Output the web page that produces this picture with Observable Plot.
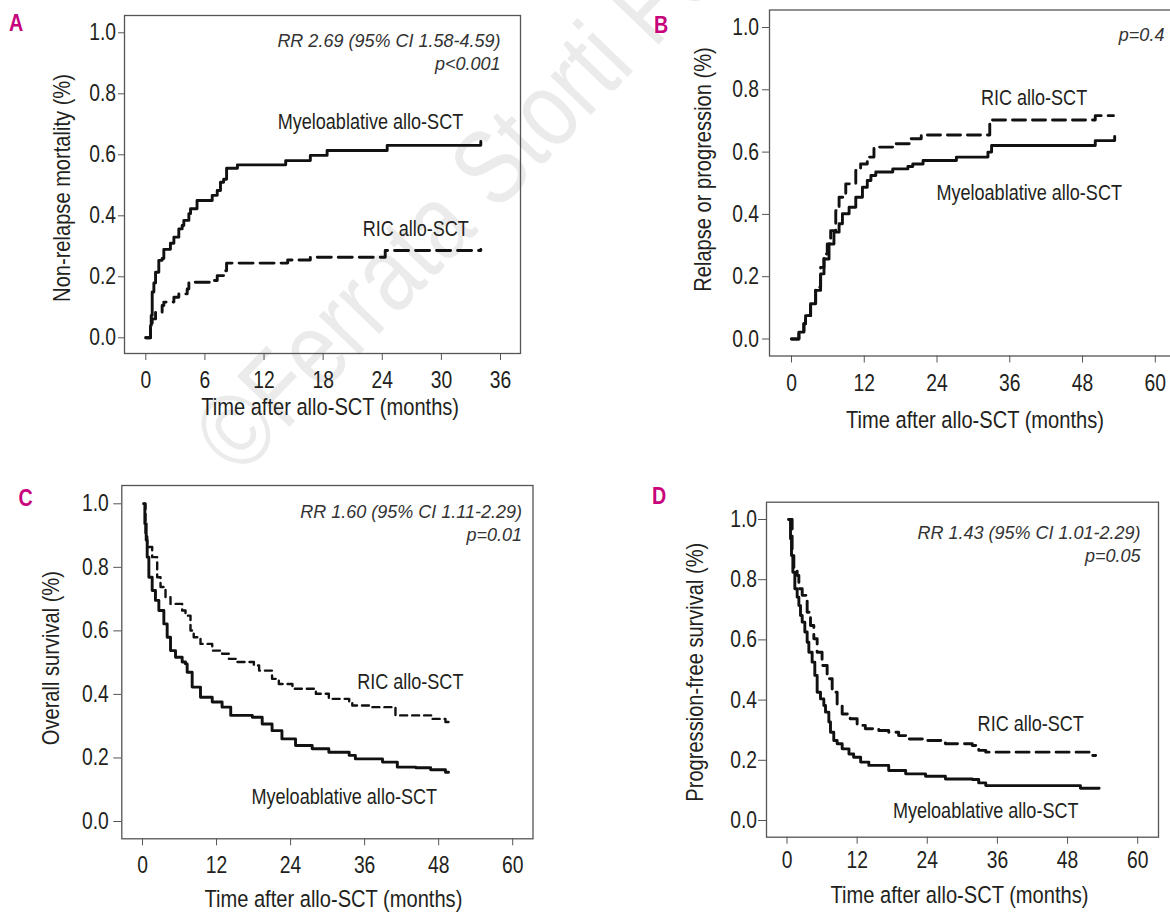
<!DOCTYPE html>
<html>
<head>
<meta charset="utf-8">
<script src="https://cdn.jsdelivr.net/npm/d3@7"></script>
<script src="https://cdn.jsdelivr.net/npm/@observablehq/plot@0.6"></script>
<style>
html, body { margin: 0; padding: 0; background: #ffffff; }
#page { position: relative; width: 1170px; height: 913px; overflow: hidden; background: #ffffff; }
#page svg { overflow: visible; }
g[aria-label$="axis tick"] path, g[aria-label="x-axis"] line, g[aria-label="y-axis"] line { stroke: #555; }
</style>
</head>
<body>
<div id="page">
<svg id="bg" width="1170" height="913" style="position:absolute;left:0;top:0;">
  <text transform="translate(240,478) rotate(-46)" font-size="106" fill="#ebebeb"
        font-family="'Liberation Sans',Arial,sans-serif">©Ferrata Storti Foundation</text>
  <g font-family="'Liberation Sans',Arial,sans-serif" font-weight="bold" font-size="24" fill="#c8047d">
    <text x="9" y="30.5">A</text>
    <text x="654" y="33">B</text>
    <text x="18.5" y="505.5">C</text>
    <text x="652" y="504">D</text>
  </g>
</svg>
</div>
<script>
// ---------- shared labels / ticks ----------
const xTicks36 = [0, 6, 12, 18, 24, 30, 36];
const xTicks60 = [0, 12, 24, 36, 48, 60];
const yTicks = [0, 0.2, 0.4, 0.6, 0.8, 1.0];
const xTitle = "Time after allo-SCT (months)";
const labelMyelo = "Myeloablative allo-SCT";
const labelRIC = "RIC allo-SCT";

// ---------- Panel A: non-relapse mortality ----------
const nrmMonthsMyelo = [0, 0.48, 0.55, 0.65, 0.82, 0.99, 1.32, 1.66, 1.83, 2.5, 2.85, 3.35, 3.69, 3.86, 4.37, 4.54, 5.2, 6.74, 7.25, 7.58, 7.9, 8.2, 9.3, 14.2, 16.7, 18.4, 24.5, 34.0, 34.0];
const nrmMyelo       = [0, 0.04, 0.073, 0.15, 0.18, 0.215, 0.254, 0.26, 0.29, 0.31, 0.33, 0.357, 0.368, 0.385, 0.407, 0.423, 0.45, 0.467, 0.483, 0.51, 0.52, 0.556, 0.567, 0.581, 0.598, 0.614, 0.631, 0.631, 0.644];
const nrmMonthsRIC   = [0, 0.48, 0.65, 0.99, 1.66, 1.83, 2.85, 3.35, 4.2, 4.37, 6.9, 7.25, 7.9, 8.2, 14.4, 16.7, 24.3, 34.0];
const nrmRIC         = [0, 0.03, 0.062, 0.084, 0.106, 0.117, 0.133, 0.144, 0.16, 0.182, 0.188, 0.204, 0.22, 0.245, 0.255, 0.264, 0.286, 0.29];
const statsA = ["RR 2.69 (95% CI 1.58-4.59)", "p<0.001"];
const yTitleA = "Non-relapse mortality (%)";

// ---------- Panel B: relapse or progression ----------
const relMonthsMyelo = [0, 1.22, 2.04, 2.32, 3.15, 3.98, 4.8, 5.36, 6.19, 7.0, 7.85, 8.4, 9.5, 10.6, 11.7, 12.5, 13.1, 13.9, 16.7, 19.2, 20.0, 21.7, 27.2, 32.4, 33.0, 50.1, 53.3, 53.3];
const relMyelo       = [0, 0.022, 0.049, 0.075, 0.113, 0.156, 0.209, 0.257, 0.305, 0.343, 0.37, 0.402, 0.423, 0.455, 0.487, 0.509, 0.525, 0.536, 0.546, 0.554, 0.562, 0.573, 0.584, 0.6, 0.621, 0.637, 0.637, 0.65];
const relMonthsRIC   = [0, 1.22, 2.04, 2.32, 3.15, 3.98, 4.8, 5.36, 5.9, 6.46, 7.3, 7.85, 8.95, 10.6, 11.4, 12.5, 13.6, 16.7, 19.7, 21.4, 32.7, 50.1, 53.1];
const relRIC         = [0, 0.022, 0.049, 0.075, 0.113, 0.166, 0.23, 0.273, 0.305, 0.348, 0.412, 0.455, 0.498, 0.541, 0.562, 0.584, 0.616, 0.627, 0.643, 0.655, 0.703, 0.717, 0.717];
const statsB = ["p=0.4"];
const yTitleB = "Relapse or progression (%)";

// ---------- Panel C: overall survival ----------
const osMonthsMyelo = [0.2, 0.38, 0.6, 0.76, 1.03, 1.57, 2.1, 2.65, 3.46, 4.0, 4.54, 5.35, 6.43, 6.97, 7.24, 8.05, 9.4, 11.3, 12.9, 14.3, 17.8, 19.4, 21.0, 22.6, 24.8, 27.5, 30.2, 33.5, 34.5, 38.9, 41.3, 44.3, 46.7, 49.1, 49.6];
const osMyelo       = [1.0, 0.937, 0.885, 0.832, 0.769, 0.727, 0.696, 0.664, 0.622, 0.58, 0.538, 0.517, 0.502, 0.496, 0.47, 0.423, 0.391, 0.376, 0.36, 0.334, 0.328, 0.307, 0.286, 0.26, 0.239, 0.229, 0.218, 0.208, 0.197, 0.187, 0.171, 0.169, 0.163, 0.155, 0.155];
const osMonthsRIC   = [0.2, 0.49, 0.76, 1.57, 2.38, 2.92, 3.73, 4.54, 6.43, 6.97, 7.78, 8.3, 9.4, 11.3, 12.9, 14.0, 15.1, 18.05, 18.9, 21.0, 22.1, 24.3, 28.1, 30.2, 33.5, 34.0, 36.7, 41.0, 47.0, 49.1, 49.6];
const osRIC         = [1.0, 0.906, 0.864, 0.832, 0.769, 0.738, 0.706, 0.685, 0.664, 0.648, 0.601, 0.58, 0.559, 0.538, 0.528, 0.512, 0.502, 0.491, 0.475, 0.449, 0.433, 0.418, 0.402, 0.386, 0.376, 0.365, 0.36, 0.334, 0.323, 0.313, 0.313];
const statsC = ["RR 1.60 (95% CI 1.11-2.29)", "p=0.01"];
const yTitleC = "Overall survival (%)";

// ---------- Panel D: progression-free survival ----------
const pfsMonthsMyelo = [0.3, 0.6, 0.77, 1.0, 1.34, 1.74, 2.03, 2.31, 2.6, 3.05, 3.45, 3.74, 4.3, 4.76, 5.16, 5.73, 6.3, 6.59, 7.16, 7.44, 8.0, 8.58, 9.44, 10.6, 11.4, 12.6, 14.0, 17.4, 20.3, 23.7, 27.1, 31.7, 32.8, 34.0, 50.2, 53.4];
const pfsMyelo       = [1.0, 0.936, 0.88, 0.825, 0.77, 0.742, 0.714, 0.681, 0.659, 0.626, 0.592, 0.559, 0.526, 0.482, 0.426, 0.404, 0.382, 0.36, 0.327, 0.293, 0.266, 0.255, 0.238, 0.221, 0.21, 0.194, 0.183, 0.166, 0.155, 0.147, 0.138, 0.136, 0.125, 0.116, 0.107, 0.107];
const pfsMonthsRIC   = [0.3, 0.88, 1.17, 1.74, 2.03, 2.6, 3.45, 4.02, 4.59, 5.16, 6.0, 6.87, 7.73, 8.58, 9.44, 10.8, 12.0, 13.4, 15.7, 17.4, 19.1, 20.8, 23.7, 27.1, 31.7, 32.8, 34.0, 52.0, 52.8];
const pfsRIC         = [1.0, 0.88, 0.836, 0.814, 0.77, 0.748, 0.692, 0.648, 0.604, 0.559, 0.515, 0.471, 0.426, 0.382, 0.354, 0.338, 0.316, 0.305, 0.299, 0.293, 0.282, 0.271, 0.266, 0.255, 0.249, 0.233, 0.227, 0.216, 0.216];
const statsD = ["RR 1.43 (95% CI 1.01-2.29)", "p=0.05"];
const yTitleD = "Progression-free survival (%)";

// ---------- drawing ----------
const FONT = "'Liberation Sans',Arial,sans-serif";
const INK = "#231f20";
const NARROW = 0.82;   // condensed look: horizontal compression of upright text
const rows = (ts, vs) => ts.map((t, i) => ({t, v: vs[i]}));

function condense(root) {
  root.querySelectorAll("text").forEach(t => {
    if (getComputedStyle(t).fontStyle === "italic") return;
    const spans = t.querySelectorAll("tspan");
    const targets = spans.length ? Array.from(spans) : [t];
    targets.forEach(el => {
      const L = el.getComputedTextLength();
      if (L > 0) {
        el.setAttribute("textLength", (L * NARROW).toFixed(2));
        el.setAttribute("lengthAdjust", "spacingAndGlyphs");
      }
    });
  });
}

function drawPanel(p) {
  const [bx, by, bw, bh] = p.box;
  const [fx0, fy0, fx1, fy1] = p.frame;
  const xt = p.xTicks;
  const marks = [
    Plot.frame({stroke: "#555", strokeWidth: 1.3}),
    Plot.line(rows(p.myeloT, p.myeloV), {x: "t", y: "v", curve: "step-after", stroke: "#111", strokeWidth: 2.9}),
    Plot.line(rows(p.ricT, p.ricV), {x: "t", y: "v", curve: "step-after", stroke: "#111", strokeWidth: p.ricWidth, strokeDasharray: p.dash}),
    Plot.text([labelMyelo], {x: p.myeloLab[0], y: p.myeloLab[1], text: d => d, textAnchor: "middle", lineAnchor: "bottom", fontSize: 22, fontFamily: FONT, fill: INK}),
    Plot.text([labelRIC], {x: p.ricLab[0], y: p.ricLab[1], text: d => d, textAnchor: "middle", lineAnchor: "bottom", fontSize: 22, fontFamily: FONT, fill: INK}),
    Plot.text(p.stats, {x: p.statX, y: (d, i) => p.statY[i], text: d => d, textAnchor: "end", lineAnchor: "bottom", fontSize: 18, fontFamily: FONT, fontStyle: "italic", fill: "#333"}),
    Plot.text([xTitle], {frameAnchor: "bottom", dx: p.xTitleDx, dy: p.xTitleDy, text: d => d, textAnchor: "middle", lineAnchor: "bottom", fontSize: 24.5, fontFamily: FONT, fill: INK}),
    Plot.text([p.yTitle], {frameAnchor: "left", dx: p.yTitleDx, dy: p.yTitleDy, rotate: -90, text: d => d, textAnchor: "middle", lineAnchor: "bottom", fontSize: 24.5, fontFamily: FONT, fill: INK})
  ];
  const fig = Plot.plot({
    width: bw, height: bh,
    marginLeft: fx0 - bx, marginTop: fy0 - by, marginRight: bx + bw - fx1, marginBottom: by + bh - fy1,
    style: {background: "transparent", fontFamily: FONT, fontSize: "23.5px", color: INK, overflow: "visible"},
    x: {domain: [xt[0], xt[xt.length - 1]], range: [p.xPix[0] - bx, p.xPix[1] - bx], ticks: xt, tickSize: 7, tickPadding: p.xPad, tickFormat: d => String(d), label: null},
    y: {domain: [0, 1], range: [p.yPix[0] - by, p.yPix[1] - by], ticks: yTicks, tickSize: p.yTick, tickPadding: p.yPad, tickFormat: d3.format(".1f"), label: null},
    marks
  });
  fig.style.position = "absolute";
  fig.style.left = bx + "px";
  fig.style.top = by + "px";
  document.getElementById("page").appendChild(fig);
  condense(fig);
}

drawPanel({
  box: [0, 0, 585, 450], frame: [124, 15, 520, 353], xTicks: xTicks36,
  xPix: [145.3, 500], yPix: [337.3, 32.3], xPad: 11, yTick: 6, yPad: 2.5,
  myeloT: nrmMonthsMyelo, myeloV: nrmMyelo, ricT: nrmMonthsRIC, ricV: nrmRIC,
  dash: "14,7", ricWidth: 2.9,
  myeloLab: [22.8, 0.685], ricLab: [27.4, 0.335],
  stats: statsA, statX: 36.0, statY: [0.953, 0.879],
  yTitle: yTitleA, xTitleDx: 7.6, xTitleDy: 61, yTitleDx: -55, yTitleDy: 3.5
});
drawPanel({
  box: [585, 0, 600, 450], frame: [769, 9.5, 1180, 355.5], xTicks: xTicks60,
  xPix: [791, 1154.8], yPix: [338.5, 27], xPad: 11.8, yTick: 7, yPad: 3.5,
  myeloT: relMonthsMyelo, myeloV: relMyelo, ricT: relMonthsRIC, ricV: relRIC,
  dash: "13,7", ricWidth: 2.9,
  myeloLab: [39.2, 0.447], ricLab: [40.0, 0.75],
  stats: statsB, statX: 61.5, statY: [0.958],
  yTitle: yTitleB, xTitleDx: 0, xTitleDy: 71.5, yTitleDx: -59, yTitleDy: -13.5
});
drawPanel({
  box: [0, 450, 585, 463], frame: [121.3, 485, 532.5, 838.3], xTicks: xTicks60,
  xPix: [142, 512.2], yPix: [821, 503.3], xPad: 11, yTick: 8, yPad: 5,
  myeloT: osMonthsMyelo, myeloV: osMyelo, ricT: osMonthsRIC, ricV: osRIC,
  dash: "7,5", ricWidth: 2.4,
  myeloLab: [32.7, 0.056], ricLab: [43.4, 0.418],
  stats: statsC, statX: 61.5, statY: [0.954, 0.884],
  yTitle: yTitleC, xTitleDx: 6, xTitleDy: 67.7, yTitleDx: -63, yTitleDy: -4
});
drawPanel({
  box: [585, 450, 585, 463], frame: [766, 501.7, 1158, 836.7], xTicks: xTicks60,
  xPix: [786.5, 1137.2], yPix: [820, 519], xPad: 7.6, yTick: 8, yPad: 1.5,
  myeloT: pfsMonthsMyelo, myeloV: pfsMyelo, ricT: pfsMonthsRIC, ricV: pfsRIC,
  dash: "13,7", ricWidth: 2.9,
  myeloLab: [34.0, 0.009], ricLab: [41.7, 0.299],
  stats: statsD, statX: 60.5, statY: [0.936, 0.86],
  yTitle: yTitleD, xTitleDx: -3, xTitleDy: 65.3, yTitleDx: -64, yTitleDy: 2.5
});
condense(document.getElementById("bg"));
</script>
</body>
</html>
